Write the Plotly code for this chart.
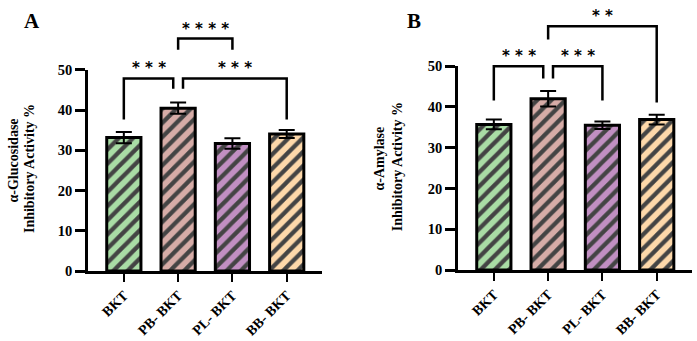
import plotly.graph_objects as go

# ---------------- data ----------------
categories = ["BKT", "PB- BKT", "PL- BKT", "BB- BKT"]
bar_colors = ["#a9dca5", "#d6aca7", "#c18fc2", "#fdd8aa"]

glucosidase_mean = [33.2, 40.5, 31.7, 34.1]
glucosidase_err = [1.4, 1.4, 1.3, 1.0]

amylase_mean = [35.7, 42.0, 35.5, 36.9]
amylase_err = [1.2, 1.9, 0.9, 1.2]

# brackets: (from idx, to idx, top value, left leg bottom, right leg bottom, label, left shift, right shift)
glucosidase_brackets = [
    (0, 1, 47.9, 37.7, 45.3, "***", 0.0, -0.09),
    (1, 3, 47.9, 45.3, 37.7, "***", 0.09, 0.0),
    (1, 2, 57.8, 55.0, 55.0, "****", 0.0, 0.0),
]
amylase_brackets = [
    (0, 1, 50.0, 41.6, 47.0, "***", 0.0, -0.09),
    (1, 2, 50.0, 47.0, 41.6, "***", 0.09, 0.0),
    (1, 3, 59.8, 56.5, 41.1, "**", 0.0, 0.0),
]

y_ticks = [0, 10, 20, 30, 40, 50]
Y_MAX = 50

W, H = 697, 341
SERIF = "Liberation Serif"

fig = go.Figure()

panels = [
    dict(mean=glucosidase_mean, err=glucosidase_err, br=glucosidase_brackets,
         xa="x", ya="y", xdom=[88 / W, 322 / W], ydom=[1 - 276 / H, 1 - 65 / H],
         title1="α-Glucosidase", title2="Inhibitory Activity %",
         tx1=13, tx2=29, ty1=160, ty2=169, label="A", lx=32, ly=14),
    dict(mean=amylase_mean, err=amylase_err, br=amylase_brackets,
         xa="x2", ya="y2", xdom=[458 / W, 692 / W], ydom=[1 - 275 / H, 1 - 61 / H],
         title1="α-Amylase", title2="Inhibitory Activity %",
         tx1=380, tx2=397, ty1=158, ty2=167, label="B", lx=414, ly=14),
]

annotations = []
shapes = []

for k, p in enumerate(panels):
    fig.add_trace(go.Bar(
        x=categories, y=p["mean"],
        xaxis=p["xa"], yaxis=p["ya"],
        width=0.63,
        marker=dict(color=bar_colors,
                    line=dict(color="black", width=3),
                    pattern=dict(shape="/", fgcolor="black",
                                 fgopacity=1, size=10, solidity=0.42,
                                 fillmode="overlay")),
        error_y=dict(type="data", array=p["err"], visible=True,
                     color="black", thickness=2, width=8),
        showlegend=False,
    ))
    suffix = "" if k == 0 else "2"
    fig.update_layout(**{
        "xaxis" + suffix: dict(
            domain=p["xdom"], anchor="y" + suffix, range=[-0.66, 3.65],
            showline=True, linewidth=2.5, linecolor="black",
            ticks="outside", ticklen=8, tickwidth=2, tickcolor="black",
            tickangle=-45, showgrid=False, zeroline=False,
            tickfont=dict(family=SERIF, size=14, color="black", weight="bold"),
        ),
        "yaxis" + suffix: dict(
            domain=p["ydom"], anchor="x" + suffix, range=[0, Y_MAX],
            tickvals=y_ticks,
            showline=True, linewidth=2.5, linecolor="black",
            ticks="outside", ticklen=10, tickwidth=2.5, tickcolor="black",
            showgrid=False, zeroline=False,
            tickfont=dict(family=SERIF, size=14.5, color="black", weight="bold"),
        ),
    })

    ydomref = p["ya"] + " domain"
    for (i, j, top, lb, rb, lab, ls, rs) in p["br"]:
        xl, xr = i + ls, j + rs
        shapes.append(dict(type="path", xref=p["xa"], yref=ydomref,
                           path=f"M {xl} {lb / Y_MAX} L {xl} {top / Y_MAX} L {xr} {top / Y_MAX} L {xr} {rb / Y_MAX}",
                           line=dict(color="black", width=2.5)))
        annotations.append(dict(x=(xl + xr) / 2, y=top / Y_MAX, xref=p["xa"], yref=ydomref,
                                text=" ".join(lab), showarrow=False, yanchor="middle", yshift=10,
                                font=dict(family="DejaVu Sans", size=15, color="black", weight="bold")))

    for txt, tx, ty in ((p["title1"], p["tx1"], p["ty1"]), (p["title2"], p["tx2"], p["ty2"])):
        annotations.append(dict(x=tx / W, y=1 - ty / H, xref="paper", yref="paper",
                                text=txt, textangle=-90, showarrow=False,
                                xanchor="center", yanchor="middle",
                                font=dict(family=SERIF, size=14, color="black", weight="bold")))
    annotations.append(dict(x=p["lx"] / W, y=1 - p["ly"] / H, xref="paper", yref="paper",
                            text=p["label"], showarrow=False, xanchor="center", yanchor="middle",
                            font=dict(family=SERIF, size=21, color="black", weight="bold")))

fig.update_layout(
    width=W, height=H,
    margin=dict(l=0, r=0, t=0, b=0),
    paper_bgcolor="white", plot_bgcolor="white",
    shapes=shapes, annotations=annotations,
)

fig.write_html("out.html")
